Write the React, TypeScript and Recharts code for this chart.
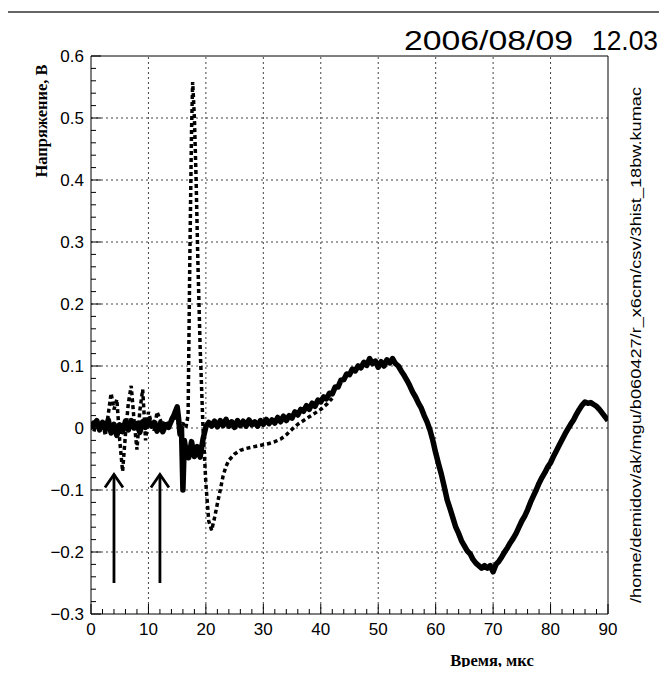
import { LineChart, Line, XAxis, YAxis, ReferenceLine } from "recharts";

// Time axis (microseconds) and voltage values
const solidTime = [
  0, 0.5, 1, 1.5, 2, 2.5, 3, 3.5, 4, 4.5, 5, 5.5, 6, 6.5, 7, 7.5, 8, 8.5, 9, 9.5,
  10, 10.5, 11, 11.5, 12, 12.5, 13, 13.5, 14, 14.5, 15, 15.25, 15.5, 15.75, 16, 16.25,
  16.5, 17, 17.5, 18, 18.5, 19, 19.5, 20, 20.5, 21, 21.5, 22, 22.5, 23, 23.5, 24,
  24.5, 25, 25.5, 26, 26.5, 27, 27.5, 28, 28.5, 29, 29.5, 30, 30.5, 31, 31.5, 32,
  32.5, 33, 33.5, 34, 34.5, 35, 35.5, 36, 36.5, 37, 37.5, 38, 38.5, 39, 39.5, 40,
  40.5, 41, 41.5, 42, 42.5, 43, 43.5, 44, 44.5, 45, 45.5, 46, 46.5, 47, 47.5, 48,
  48.5, 49, 49.5, 50, 50.5, 51, 51.5, 52, 52.5, 53, 53.5, 54, 54.5, 55, 55.5, 56,
  56.5, 57, 57.5, 58, 58.5, 59, 59.5, 60, 60.5, 61, 61.5, 62, 62.5, 63, 63.5, 64,
  64.5, 65, 65.5, 66, 66.5, 67, 67.5, 68, 68.5, 69, 69.5, 70, 70.5, 71, 71.5, 72,
  72.5, 73, 73.5, 74, 74.5, 75, 75.5, 76, 76.5, 77, 77.5, 78, 78.5, 79, 79.5, 80,
  80.5, 81, 81.5, 82, 82.5, 83, 83.5, 84, 84.5, 85, 85.5, 86, 86.5, 87, 87.5, 88,
  88.5, 89, 89.5, 90,
];
const solidVolts = [
  0.01, 0.004, 0.012, -0.003, 0.009, -0.002, 0.013, -0.008, 0.006, -0.012, 0.005, -0.006, 0.011, -0.003, 0.012, 0.0, 0.007, -0.007, 0.01, 0.001,
  0.013, 0.003, 0.009, -0.005, 0.007, -0.006, 0.005, 0.001, 0.012, 0.022, 0.034, 0.015, -0.01, 0.0, -0.1, -0.02,
  -0.035, -0.048, -0.022, -0.046, -0.03, -0.047, -0.018, 0.002, 0.009, 0.003, 0.011, 0.002, 0.012, 0.004, 0.014, 0.003,
  0.01, 0.001, 0.012, 0.004, 0.011, 0.003, 0.013, 0.005, 0.01, 0.003, 0.012, 0.006, 0.014, 0.007, 0.013, 0.008,
  0.017, 0.01, 0.019, 0.012, 0.02, 0.016, 0.026, 0.021, 0.03, 0.027, 0.036, 0.03, 0.04, 0.035, 0.045, 0.042,
  0.05, 0.047, 0.056, 0.055, 0.066, 0.066, 0.077, 0.078, 0.087, 0.086, 0.095, 0.092, 0.1, 0.097, 0.106, 0.101,
  0.112, 0.104, 0.108, 0.098, 0.107, 0.1, 0.11, 0.105, 0.112, 0.104, 0.1, 0.092, 0.085, 0.077, 0.068, 0.058,
  0.05, 0.04, 0.032, 0.02, 0.01, -0.003, -0.02, -0.04, -0.058, -0.075, -0.095, -0.116, -0.13, -0.145, -0.16, -0.17,
  -0.182, -0.19, -0.198, -0.203, -0.212, -0.218, -0.222, -0.226, -0.222, -0.226, -0.222, -0.232, -0.22, -0.215, -0.208, -0.2,
  -0.193, -0.185, -0.178, -0.17, -0.16, -0.15, -0.142, -0.132, -0.12, -0.11, -0.1, -0.089, -0.08, -0.072, -0.063, -0.056,
  -0.046, -0.037, -0.028, -0.019, -0.01, -0.002, 0.006, 0.013, 0.022, 0.03, 0.037, 0.042, 0.04, 0.041, 0.038, 0.035,
  0.03, 0.024, 0.018, 0.012,
];

const dashTime = [
  0, 0.5, 1, 1.5, 2, 2.5, 3, 3.5, 4, 4.5, 5, 5.5, 6, 6.5, 7, 7.5, 8, 8.5, 9, 9.5,
  10, 10.5, 11, 11.5, 12, 12.5, 13, 13.5, 14, 14.5, 15, 15.5, 16, 16.5, 16.9, 17.2,
  17.5, 17.7, 18, 18.3, 18.6, 19, 19.5, 20, 20.5, 21, 21.5, 22, 22.5, 23, 23.5, 24,
  25, 26, 27, 28, 29, 30, 31, 32, 33, 34, 35, 36, 37, 38, 39, 40, 41, 42,
];
const dashVolts = [
  0.004, -0.006, 0.012, 0.0, 0.01, -0.012, 0.022, 0.056, 0.03, 0.046, -0.02, -0.07, -0.01, 0.04, 0.068, 0.012, -0.035, 0.028, 0.062, -0.02,
  0.026, 0.008, -0.004, 0.026, 0.014, 0.004, 0.012, 0.0, 0.016, 0.02, 0.01, 0.004, 0.008, 0.0, 0.02, 0.27,
  0.48, 0.558, 0.5, 0.4, 0.27, 0.13, 0.0, -0.09, -0.15, -0.165, -0.145, -0.122, -0.1, -0.077, -0.062, -0.052,
  -0.042, -0.036, -0.033, -0.031, -0.029, -0.027, -0.025, -0.022, -0.018, -0.011, -0.002, 0.006, 0.012, 0.018, 0.024, 0.03, 0.038, 0.048,
];

// arrows marking two instants
const arrowTimes = [4, 12];
const arrowBottom = -0.25;
const arrowTip = -0.075;

const xMajor = [0, 10, 20, 30, 40, 50, 60, 70, 80, 90];
const yMajor = [-0.3, -0.2, -0.1, 0, 0.1, 0.2, 0.3, 0.4, 0.5, 0.6];
const xTicks = Array.from({ length: 46 }, (_, i) => i * 2);
const yTicks = Array.from({ length: 46 }, (_, i) => Math.round((i * 0.02 - 0.3) * 100) / 100);

const solidData = solidTime.map((t, i) => ({ t, v: solidVolts[i] }));
const dashData = dashTime.map((t, i) => ({ t, v: dashVolts[i] }));

const tickFont = "'Liberation Sans', Arial, sans-serif";
const titleFont = "'Liberation Serif', 'Times New Roman', serif";

const XTick = (props: any) => {
  const { x, y, payload } = props;
  const v = payload.value;
  const major = v % 10 === 0;
  return (
    <g>
      <line x1={x} x2={x} y1={y} y2={y - (major ? 10 : 5)} stroke="#000" />
      {major && (
        <text x={x} y={y + 21} textAnchor="middle" fontSize={17} fontFamily={tickFont} fill="#000">
          {v}
        </text>
      )}
    </g>
  );
};

const fmtY = (v: number) => {
  if (Math.abs(v) < 1e-9) return "0";
  return v < 0 ? "\u2212" + Math.abs(v).toFixed(1) : v.toFixed(1);
};

const YTick = (props: any) => {
  const { x, y, payload } = props;
  const v = payload.value;
  const major = Math.round(v * 100) % 10 === 0;
  return (
    <g>
      <line x1={x} x2={x + (major ? 10 : 5)} y1={y} y2={y} stroke="#000" />
      {major && (
        <text x={x - 7} y={y + 6} textAnchor="end" fontSize={17} fontFamily={tickFont} fill="#000">
          {fmtY(v)}
        </text>
      )}
    </g>
  );
};

const Arrow = (p: any) => {
  const { x1, y1, x2, y2 } = p;
  return (
    <g stroke="#000" strokeWidth={2.8} fill="none">
      <line x1={x1} y1={y1} x2={x2} y2={y2} />
      <polyline points={`${x2 - 9},${y2 + 13} ${x2},${y2} ${x2 + 9},${y2 + 13}`} />
    </g>
  );
};

export default function App() {
  return (
    <div style={{ position: "relative", width: 667, height: 675, margin: -8, background: "#fff" }}>
      <LineChart
        width={667}
        height={675}
        margin={{ top: 56, right: 59, left: 0, bottom: 0 }}
      >
        <XAxis
          dataKey="t"
          type="number"
          domain={[0, 90]}
          ticks={xTicks}
          interval={0}
          height={61}
          tickSize={0}
          tickMargin={0}
          tickLine={false}
          axisLine={{ stroke: "#000" }}
          tick={<XTick />}
          allowDataOverflow
        />
        <YAxis
          dataKey="v"
          type="number"
          domain={[-0.3, 0.6]}
          ticks={yTicks}
          interval={0}
          width={91}
          tickSize={0}
          tickMargin={0}
          tickLine={false}
          axisLine={{ stroke: "#000" }}
          tick={<YTick />}
          allowDataOverflow
        />
        {xMajor.slice(1, -1).map((x) => (
          <ReferenceLine key={"gx" + x} x={x} stroke="#444" strokeDasharray="2 3" />
        ))}
        {yMajor.slice(1, -1).map((y) => (
          <ReferenceLine key={"gy" + y} y={y} stroke="#444" strokeDasharray="2 3" />
        ))}
        <ReferenceLine x={90} stroke="#000" />
        <ReferenceLine y={0.6} stroke="#000" />
        <Line
          data={dashData}
          dataKey="v"
          type="linear"
          stroke="#000"
          strokeWidth={3.5}
          strokeDasharray="4 3"
          strokeLinejoin="bevel"
          dot={false}
          isAnimationActive={false}
        />
        <Line
          data={solidData}
          dataKey="v"
          type="linear"
          stroke="#000"
          strokeWidth={5.5}
          strokeLinejoin="round"
          dot={false}
          isAnimationActive={false}
        />
        {arrowTimes.map((t) => (
          <ReferenceLine
            key={"a" + t}
            segment={[
              { x: t, y: arrowBottom },
              { x: t, y: arrowTip },
            ]}
            shape={<Arrow />}
          />
        ))}
      </LineChart>
      <svg
        width={667}
        height={675}
        style={{ position: "absolute", left: 0, top: 0, pointerEvents: "none" }}
      >
        <line x1={5} y1={12} x2={667} y2={12} stroke="#333" strokeWidth={1.5} />
        <line x1={5} y1={12} x2={5} y2={675} stroke="#333" strokeWidth={1.5} />
        <text x={404} y={50} fontSize={27} fontFamily={tickFont} textLength={169} lengthAdjust="spacingAndGlyphs" fill="#000">
          2006/08/09
        </text>
        <text x={592} y={50} fontSize={27} fontFamily={tickFont} textLength={66} lengthAdjust="spacingAndGlyphs" fill="#000">
          12.03
        </text>
        <text
          transform="translate(47,121) rotate(-90)"
          textAnchor="middle"
          fontSize={16.5}
          fontWeight="bold"
          fontFamily={titleFont}
          fill="#000"
        >
          Напряжение, В
        </text>
        <text x={492} y={666} textAnchor="middle" fontSize={16.5} fontWeight="bold" fontFamily={titleFont} fill="#000">
          Время, мкс
        </text>
        <text
          transform="translate(641,603) rotate(-90)"
          fontSize={15}
          fontFamily={tickFont}
          textLength={516}
          lengthAdjust="spacingAndGlyphs"
          fill="#000"
        >
          /home/demidov/ak/mgu/b060427/r_x6cm/csv/3hist_18bw.kumac
        </text>
      </svg>
    </div>
  );
}
